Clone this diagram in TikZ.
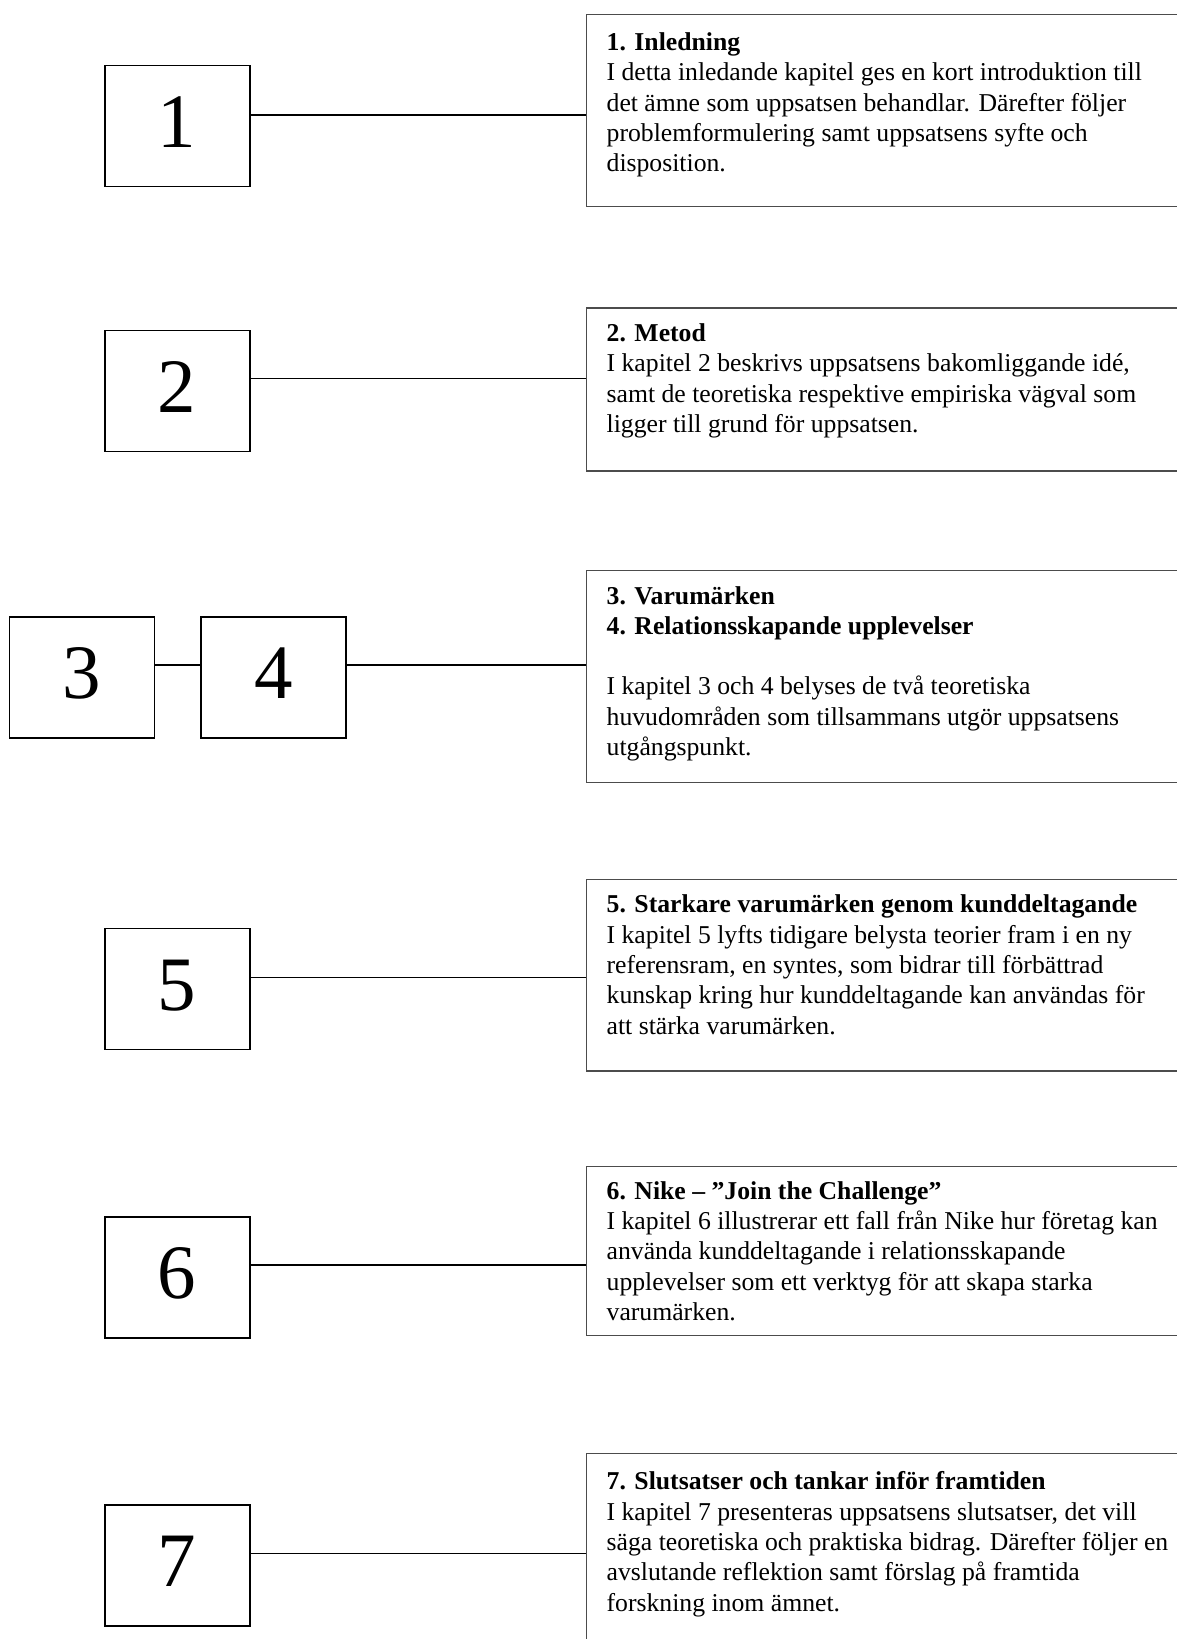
\documentclass[tikz,border=0pt]{standalone}
\usepackage{fontspec}
\setmainfont{Liberation Serif}
\tikzset{
  numbox/.style={draw, line width=1.6pt, minimum width=145pt, minimum height=121pt,
    inner sep=0pt, font=\fontsize{77}{80}\selectfont, text depth=8pt},
  infobox/.style={draw=black!70, line width=1.3pt, inner sep=0pt, anchor=north west},
  link/.style={line width=1.5pt}
}
\newcommand\infotext[3]{\parbox[c][#1][t]{610pt}{\fontsize{25.7}{30.3}\selectfont\raggedright\leftskip=20pt\relax\vspace*{#2}\strut #3}}
\begin{document}
\begin{tikzpicture}[x=1pt,y=-1pt]
\useasboundingbox (0,0) rectangle (1176,1639);
% number boxes
\node[numbox] (b1) at (177.2,126) {1};
\node[numbox] (b2) at (177.2,391) {2};
\node[numbox] (b3) at (82.1,677.4) {3};
\node[numbox] (b4) at (273.4,677.4) {4};
\node[numbox] (b5) at (177.2,988.9) {5};
\node[numbox] (b6) at (177.2,1277.4) {6};
\node[numbox] (b7) at (177.2,1565.4) {7};
% text boxes
\node[infobox] (t1) at (586,13.6) {\infotext{192.3pt}{15pt}{\textbf{1. Inledning}\\
I detta inledande kapitel ges en kort introduktion till\\
det ämne som uppsatsen behandlar. Därefter följer\\
problemformulering samt uppsatsens syfte och\\
disposition.}};
\node[infobox] (t2) at (586,307.3) {\infotext{163.1pt}{12.5pt}{\textbf{2. Metod}\\
I kapitel 2 beskrivs uppsatsens bakomliggande idé,\\
samt de teoretiska respektive empiriska vägval som\\
ligger till grund för uppsatsen.}};
\node[infobox] (t3) at (586,569.7) {\infotext{212.2pt}{12.5pt}{\textbf{3. Varumärken}\\
\textbf{4. Relationsskapande upplevelser}\\[30.3pt]
I kapitel 3 och 4 belyses de två teoretiska\\
huvudområden som tillsammans utgör uppsatsens\\
utgångspunkt.}};
\node[infobox] (t5) at (586,879.1) {\infotext{191.3pt}{12pt}{\textbf{5. Starkare varumärken genom kunddeltagande}\\
I kapitel 5 lyfts tidigare belysta teorier fram i en ny\\
referensram, en syntes, som bidrar till förbättrad\\
kunskap kring hur kunddeltagande kan användas för\\
att stärka varumärken.}};
\node[infobox] (t6) at (586,1165.5) {\infotext{169.4pt}{12pt}{\textbf{6. Nike – ”Join the Challenge”}\\
I kapitel 6 illustrerar ett fall från Nike hur företag kan\\
använda kunddeltagande i relationsskapande\\
upplevelser som ett verktyg för att skapa starka\\
varumärken.}};
\node[infobox] (t7) at (586,1453) {\infotext{200pt}{15pt}{\textbf{7. Slutsatser och tankar inför framtiden}\\
I kapitel 7 presenteras uppsatsens slutsatser, det vill\\
säga teoretiska och praktiska bidrag. Därefter följer en\\
avslutande reflektion samt förslag på framtida\\
forskning inom ämnet.}};
% connector levels
\coordinate (c1) at (0,115);
\coordinate (c2) at (0,378.4);
\coordinate (c3) at (0,664.8);
\coordinate (c5) at (0,977.4);
\coordinate (c6) at (0,1264.9);
\coordinate (c7) at (0,1553.4);
\draw[link] (b1.east |- c1) -- (t1.west |- c1);
\draw[link] (b2.east |- c2) -- (t2.west |- c2);
\draw[link] (b3.east |- c3) -- (b4.west |- c3);
\draw[link] (b4.east |- c3) -- (t3.west |- c3);
\draw[link] (b5.east |- c5) -- (t5.west |- c5);
\draw[link] (b6.east |- c6) -- (t6.west |- c6);
\draw[link] (b7.east |- c7) -- (t7.west |- c7);
\end{tikzpicture}
\end{document}
